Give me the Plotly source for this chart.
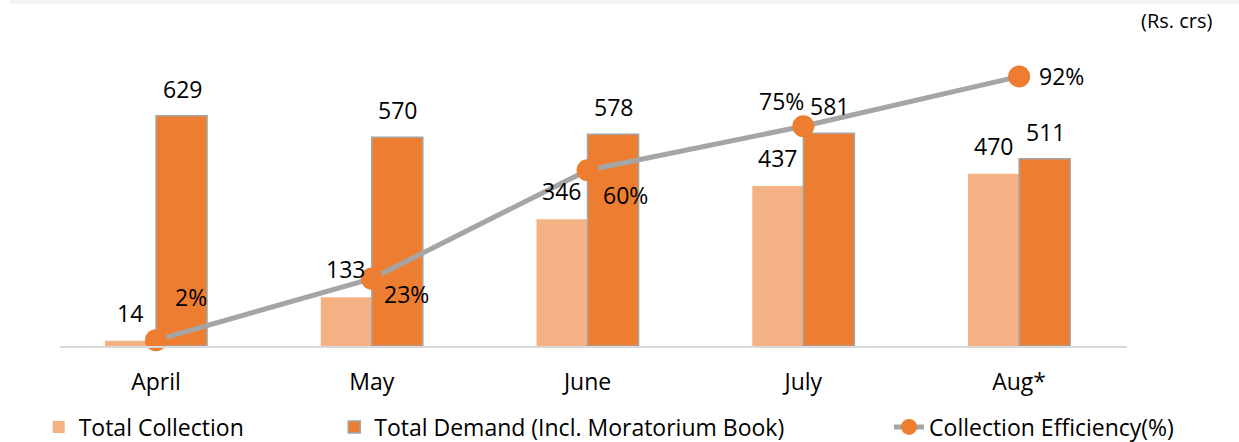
import plotly.graph_objects as go

months = ["April", "May", "June", "July", "Aug*"]
total_collection = [14, 133, 346, 437, 470]
total_demand = [629, 570, 578, 581, 511]
efficiency = [2, 23, 60, 75, 92]
eff_labels = ["2%", "23%", "60%", "75%", "92%"]

# pixel offsets for the percentage labels (style only)
eff_dx = [35, 35, 38, -22, 42]
eff_dy = [43, -15, -25, 25, 0]

FONT = "Open Sans, Liberation Sans, sans-serif"
FS = 23
LIGHT = "#F4B183"
DARK = "#ED7D31"
GREY = "#A5A5A5"

fig = go.Figure()
fig.add_trace(go.Bar(
    name="Total Collection", x=months, y=total_collection,
    marker=dict(color=LIGHT, line=dict(width=0)), legend="legend",
))
fig.add_trace(go.Bar(
    name="Total Demand (Incl. Moratorium Book)", x=months, y=total_demand,
    marker=dict(color=DARK, line=dict(width=1.5, color=GREY)), legend="legend2",
))
fig.add_trace(go.Scatter(
    name="Collection Efficiency(%)", x=months, y=efficiency, yaxis="y2",
    mode="lines+markers",
    line=dict(color=GREY, width=5),
    marker=dict(color=DARK, size=22),
    cliponaxis=False, legend="legend3",
))

annotations = []
for m, v in zip(months, total_collection):
    annotations.append(dict(x=m, y=v, xref="x", yref="y", text=str(v), showarrow=False,
                            xshift=-26, yshift=28, yanchor="middle", xanchor="center",
                            font=dict(size=FS, family=FONT, color="black")))
for m, v in zip(months, total_demand):
    annotations.append(dict(x=m, y=v, xref="x", yref="y", text=str(v), showarrow=False,
                            xshift=26, yshift=27, yanchor="middle", xanchor="center",
                            font=dict(size=FS, family=FONT, color="black")))
for m, v, t, dx, dy in zip(months, efficiency, eff_labels, eff_dx, eff_dy):
    annotations.append(dict(x=m, y=v, xref="x", yref="y2", text=t, showarrow=False,
                            xshift=dx, yshift=dy, yanchor="middle", xanchor="center",
                            font=dict(size=FS, family=FONT, color="black")))
annotations.append(dict(text="(Rs. crs)", xref="paper", yref="paper",
                        x=1.047, y=1.11, xanchor="center", yanchor="middle",
                        showarrow=False,
                        font=dict(size=20, family=FONT, color="black")))

leg_common = dict(orientation="h", xref="paper", yref="container", y=0.034,
                  yanchor="middle", xanchor="left", font=dict(size=FS),
                  bgcolor="rgba(0,0,0,0)")

fig.update_layout(
    width=1239, height=442,
    margin=dict(l=60, r=112, t=53, b=96, autoexpand=False),
    paper_bgcolor="white", plot_bgcolor="white",
    font=dict(family=FONT, size=FS, color="black"),
    barmode="group", bargap=0.527, bargroupgap=0,
    showlegend=True,
    legend=dict(x=-0.02, **leg_common),
    legend2=dict(x=0.257, **leg_common),
    legend3=dict(x=0.777, **leg_common),
    xaxis=dict(range=[-0.445, 4.5], showgrid=False, showline=True, linecolor="#D9D9D9",
               linewidth=2, ticks="", tickfont=dict(size=FS), ticklabelstandoff=14,
               zeroline=False),
    yaxis=dict(range=[0, 800], showgrid=False, showticklabels=False, zeroline=False,
               showline=False),
    yaxis2=dict(range=[0, 100], overlaying="y", side="right", showgrid=False,
                showticklabels=False, zeroline=False, showline=False),
    shapes=[dict(type="rect", xref="paper", yref="paper",
                 x0=-0.047, x1=1.11, y0=1.169, y1=1.185,
                 fillcolor="#F2F2F2", line=dict(width=0), layer="below")],
    annotations=annotations,
)

fig.write_html("out.html", config={"displayModeBar": False},
               post_script="document.body.style.margin='0px';")
